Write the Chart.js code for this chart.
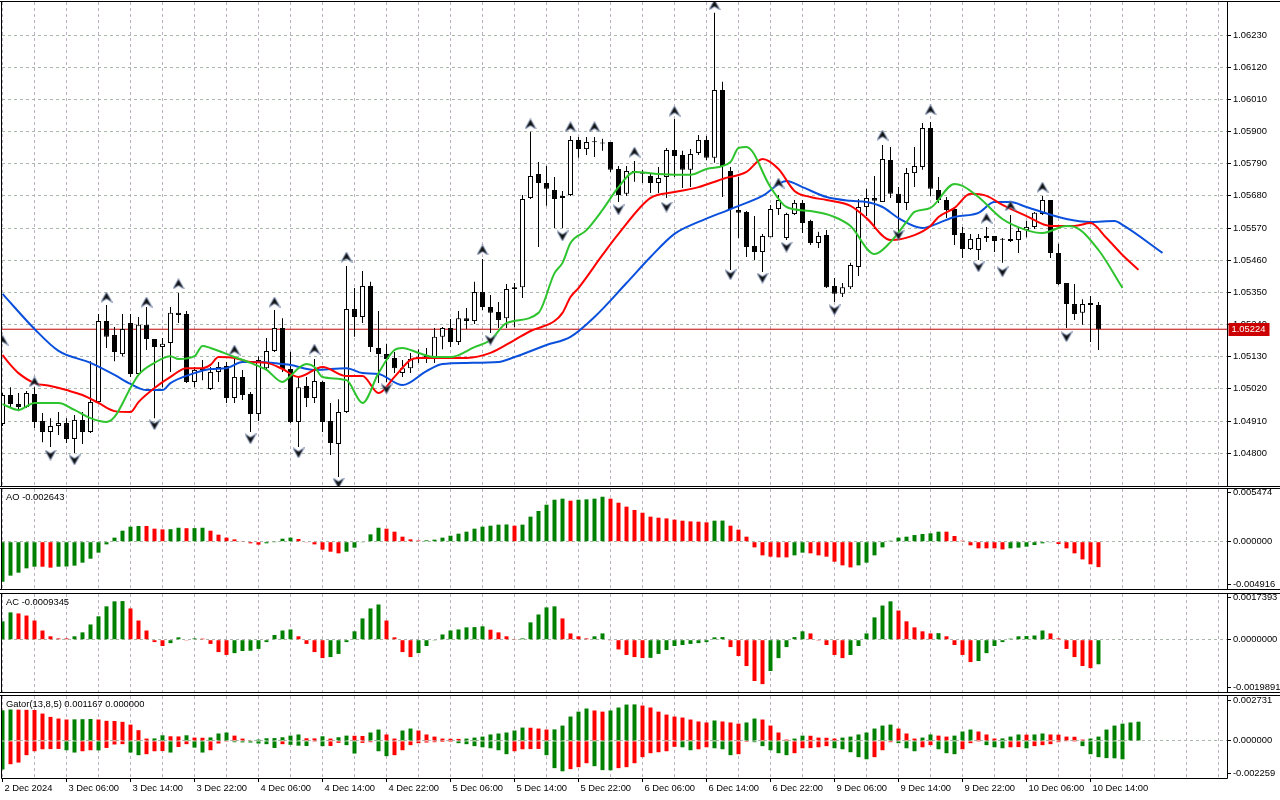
<!DOCTYPE html>
<html><head><meta charset="utf-8">
<script src="https://cdn.jsdelivr.net/npm/chart.js@4.4.1/dist/chart.umd.min.js"></script>
<style>
html,body{margin:0;padding:0;background:#fff;width:1280px;height:800px;overflow:hidden}
canvas{position:absolute;left:0}
</style></head><body>
<canvas id="cMain" width="1280" height="488" style="top:0px"></canvas>
<canvas id="cAO" width="1280" height="103" style="top:488px"></canvas>
<canvas id="cAC" width="1280" height="103" style="top:591px"></canvas>
<canvas id="cGator" width="1280" height="106" style="top:694px"></canvas>
<script>
// ---------- data (hourly bars, index 0 = first visible bar) ----------
const xLabels = ['2 Dec 2024','3 Dec 06:00','3 Dec 14:00','3 Dec 22:00','4 Dec 06:00','4 Dec 14:00','4 Dec 22:00','5 Dec 06:00','5 Dec 14:00','5 Dec 22:00','6 Dec 06:00','6 Dec 14:00','6 Dec 22:00','9 Dec 06:00','9 Dec 14:00','9 Dec 22:00','10 Dec 06:00','10 Dec 14:00'];
const priceTicks = [1.04800,1.04910,1.05020,1.05130,1.05240,1.05350,1.05460,1.05570,1.05680,1.05790,1.05900,1.06010,1.06120,1.06230];
const priceRange = [1.04688, 1.06343];

const candleOpen = [1.04900,1.04999,1.04968,1.04958,1.05003,1.04910,1.04873,1.04893,1.04903,1.04849,
1.04914,1.04873,1.04975,1.05252,1.05204,1.05139,1.05245,1.05071,1.05239,1.05191,
1.05163,1.05177,1.05280,1.05276,1.05044,1.05085,1.05020,1.05078,1.05098,1.04989,
1.05061,1.05003,1.04934,1.05091,1.05150,1.05228,1.05088,1.04907,1.05030,1.04989,
1.05044,1.04910,1.04832,1.04941,1.05293,1.05266,1.05372,1.05160,1.05139,1.05126,
1.05074,1.05091,1.05122,1.05136,1.05122,1.05198,1.05228,1.05180,1.05262,1.05252,
1.05351,1.05300,1.05283,1.05262,1.05362,1.05368,1.05673,1.05755,1.05724,1.05700,
1.05673,1.05683,1.05871,1.05840,1.05865,1.05861,1.05864,1.05772,1.05687,1.05765,
1.05758,1.05748,1.05724,1.05745,1.05837,1.05820,1.05769,1.05827,1.05871,1.05810,
1.06042,1.05765,1.05632,1.05625,1.05509,1.05488,1.05539,1.05635,1.05536,1.05618,
1.05656,1.05594,1.05519,1.05546,1.05372,1.05345,1.05368,1.05437,1.05642,1.05673,
1.05659,1.05803,1.05687,1.05656,1.05758,1.05779,1.05912,1.05700,1.05666,1.05635,
1.05553,1.05498,1.05495,1.05536,1.05543,1.05533,1.05533,1.05529,1.05563,1.05574,
1.05618,1.05666,1.05485,1.05382,1.05310,1.05280,1.05314,1.05307];
const candleHigh = [1.05006,1.05026,1.05006,1.05013,1.05026,1.04938,1.04920,1.04941,1.04920,1.04931,
1.04941,1.05115,1.05276,1.05307,1.05232,1.05276,1.05276,1.05266,1.05300,1.05191,
1.05194,1.05300,1.05348,1.05286,1.05095,1.05119,1.05095,1.05112,1.05112,1.05129,
1.05085,1.05009,1.05132,1.05194,1.05290,1.05262,1.05146,1.05061,1.05061,1.05122,
1.05047,1.04972,1.04985,1.05440,1.05365,1.05423,1.05386,1.05286,1.05174,1.05146,
1.05119,1.05143,1.05156,1.05160,1.05228,1.05232,1.05259,1.05286,1.05297,1.05386,
1.05464,1.05341,1.05317,1.05379,1.05382,1.05683,1.05899,1.05796,1.05782,1.05745,
1.05697,1.05885,1.05881,1.05881,1.05881,1.05875,1.05864,1.05782,1.05782,1.05799,
1.05769,1.05758,1.05779,1.05844,1.05943,1.05834,1.05840,1.05888,1.05885,1.06306,
1.06070,1.05779,1.05745,1.05628,1.05611,1.05550,1.05649,1.05683,1.05622,1.05666,
1.05666,1.05598,1.05557,1.05563,1.05399,1.05382,1.05451,1.05669,1.05704,1.05748,
1.05854,1.05847,1.05710,1.05775,1.05847,1.05929,1.05933,1.05745,1.05676,1.05639,
1.05574,1.05550,1.05550,1.05574,1.05543,1.05536,1.05615,1.05574,1.05594,1.05625,
1.05680,1.05666,1.05516,1.05382,1.05379,1.05327,1.05338,1.05317];
const candleLow = [1.04893,1.04958,1.04944,1.04955,1.04886,1.04838,1.04821,1.04862,1.04835,1.04801,
1.04832,1.04869,1.04972,1.05160,1.05115,1.05132,1.05061,1.05064,1.05153,1.04920,
1.05026,1.05078,1.05245,1.05040,1.05026,1.05050,1.05016,1.05044,1.04972,1.04972,
1.04982,1.04873,1.04910,1.05085,1.05146,1.05078,1.04903,1.04821,1.04958,1.04972,
1.04873,1.04794,1.04719,1.04938,1.05198,1.05245,1.05146,1.05040,1.05044,1.05074,
1.05061,1.05074,1.05109,1.05109,1.05109,1.05156,1.05163,1.05170,1.05225,1.05242,
1.05290,1.05211,1.05228,1.05228,1.05232,1.05331,1.05669,1.05505,1.05646,1.05570,
1.05570,1.05680,1.05810,1.05820,1.05813,1.05834,1.05762,1.05659,1.05680,1.05728,
1.05724,1.05690,1.05690,1.05673,1.05745,1.05707,1.05710,1.05820,1.05803,1.05793,
1.05676,1.05427,1.05536,1.05471,1.05461,1.05420,1.05539,1.05615,1.05529,1.05615,
1.05553,1.05512,1.05502,1.05365,1.05317,1.05334,1.05362,1.05406,1.05611,1.05567,
1.05659,1.05673,1.05557,1.05632,1.05710,1.05769,1.05680,1.05656,1.05604,1.05512,
1.05468,1.05495,1.05461,1.05522,1.05488,1.05451,1.05522,1.05485,1.05539,1.05567,
1.05615,1.05468,1.05375,1.05228,1.05256,1.05239,1.05180,1.05153];
const candleClose = [1.04999,1.04968,1.04958,1.05006,1.04907,1.04873,1.04893,1.04903,1.04849,1.04914,
1.04873,1.04975,1.05252,1.05198,1.05146,1.05225,1.05071,1.05239,1.05191,1.05163,
1.05174,1.05280,1.05273,1.05044,1.05085,1.05091,1.05078,1.05095,1.04989,1.05061,
1.04999,1.04934,1.05119,1.05150,1.05228,1.05088,1.04907,1.05026,1.04989,1.05047,
1.04907,1.04835,1.04941,1.05293,1.05266,1.05372,1.05163,1.05139,1.05122,1.05091,
1.05091,1.05122,1.05129,1.05122,1.05198,1.05228,1.05180,1.05262,1.05252,1.05351,
1.05300,1.05280,1.05256,1.05362,1.05368,1.05669,1.05748,1.05724,1.05704,1.05669,
1.05680,1.05871,1.05840,1.05864,1.05863,1.05859,1.05769,1.05683,1.05765,1.05758,
1.05756,1.05724,1.05741,1.05837,1.05816,1.05769,1.05823,1.05871,1.05810,1.06042,
1.05782,1.05635,1.05622,1.05505,1.05488,1.05543,1.05635,1.05666,1.05618,1.05656,
1.05587,1.05519,1.05543,1.05368,1.05345,1.05368,1.05444,1.05642,1.05673,1.05663,
1.05806,1.05687,1.05656,1.05758,1.05782,1.05912,1.05704,1.05666,1.05632,1.05546,
1.05498,1.05533,1.05536,1.05543,1.05526,1.05530,1.05526,1.05560,1.05574,1.05622,
1.05666,1.05485,1.05379,1.05310,1.05276,1.05310,1.05307,1.05224];
const lastPrice = 1.05224;

// Alligator lines: [bar index, price]
const jawLine = [[0,1.05345],[4,1.05225],[7,1.05150],[11,1.05109],[14,1.05068],[16,1.05037],[18,1.05016],[20,1.05016],[21,1.05040],[24,1.05074],[26,1.05088],[28,1.05091],[30,1.05112],[32,1.05112],[35,1.05105],[36,1.05102],[39,1.05085],[43,1.05091],[45,1.05074],[47,1.05071],[50,1.05033],[53,1.05081],[55,1.05105],[58,1.05109],[62,1.05112],[64,1.05129],[68,1.05170],[71,1.05198],[74,1.05266],[78,1.05382],[81,1.05471],[84,1.05550],[87,1.05591],[91,1.05635],[95,1.05680],[98,1.05731],[100,1.05710],[103,1.05676],[106,1.05663],[108,1.05659],[110,1.05642],[112,1.05604],[115,1.05570],[117,1.05587],[119,1.05608],[122,1.05622],[124,1.05659],[126,1.05659],[128,1.05642],[133,1.05601],[136,1.05591],[139,1.05594],[140,1.05581],[145,1.05485]];
const teethLine = [[0,1.05136],[1,1.05102],[2,1.05074],[4,1.05040],[6,1.05030],[8,1.05016],[10,1.04999],[12,1.04972],[14,1.04944],[16,1.04941],[17,1.04975],[19,1.05023],[21,1.05061],[23,1.05091],[25,1.05091],[26,1.05102],[27,1.05129],[29,1.05126],[31,1.05112],[33,1.05109],[35,1.05088],[37,1.05061],[40,1.05095],[43,1.05064],[45,1.05064],[47,1.05006],[49,1.05061],[51,1.05119],[52,1.05126],[56,1.05126],[58,1.05126],[61,1.05143],[64,1.05187],[66,1.05218],[69,1.05252],[70,1.05280],[71,1.05334],[72,1.05365],[75,1.05478],[77,1.05550],[81,1.05673],[84,1.05693],[87,1.05710],[90,1.05738],[93,1.05762],[95,1.05806],[97,1.05772],[99,1.05697],[101,1.05676],[103,1.05666],[106,1.05646],[108,1.05604],[111,1.05529],[114,1.05546],[116,1.05577],[117,1.05608],[119,1.05639],[121,1.05687],[123,1.05680],[125,1.05649],[128,1.05611],[131,1.05577],[134,1.05577],[136,1.05587],[138,1.05536],[140,1.05478],[142,1.05427]];
const lipsLine = [[0,1.04968],[2,1.04948],[4,1.04972],[7,1.04972],[9,1.04948],[11,1.04920],[13,1.04907],[14,1.04924],[16,1.05023],[17,1.05068],[19,1.05109],[21,1.05132],[22,1.05122],[24,1.05132],[25,1.05167],[26,1.05160],[29,1.05129],[31,1.05109],[33,1.05085],[35,1.05044],[36,1.05064],[37,1.05091],[38,1.05105],[39,1.05095],[40,1.05061],[43,1.05050],[45,1.04972],[47,1.05074],[49,1.05153],[50,1.05160],[52,1.05143],[54,1.05129],[56,1.05129],[59,1.05163],[61,1.05187],[63,1.05245],[67,1.05280],[69,1.05416],[70,1.05451],[71,1.05519],[73,1.05563],[75,1.05632],[77,1.05710],[79,1.05762],[82,1.05755],[86,1.05752],[88,1.05772],[91,1.05796],[92,1.05844],[93,1.05847],[96,1.05710],[98,1.05642],[101,1.05628],[104,1.05608],[106,1.05577],[109,1.05481],[111,1.05522],[113,1.05591],[114,1.05625],[116,1.05639],[119,1.05721],[120,1.05714],[122,1.05676],[125,1.05601],[128,1.05563],[130,1.05553],[133,1.05577],[134,1.05574],[137,1.05495],[140,1.05365]];

// Fractal arrows: [bar index, price of the arrow]
const fractalUp = [[0,1.05187],[4,1.05044],[13,1.05334],[18,1.05317],[22,1.05379],[29,1.05153],[34,1.05317],[39,1.05156],[43,1.05471],[60,1.05495],[66,1.05926],[71,1.05916],[74,1.05916],[79,1.05830],[84,1.05970],[89,1.06333],[97,1.05724],[110,1.05888],[116,1.05974],[123,1.05604],[126,1.05646],[130,1.05710]];
const fractalDown = [[6,1.04794],[9,1.04777],[19,1.04897],[31,1.04849],[37,1.04801],[42,1.04698],[48,1.05020],[61,1.05187],[70,1.05543],[77,1.05632],[83,1.05642],[91,1.05410],[95,1.05399],[98,1.05505],[104,1.05290],[112,1.05546],[122,1.05437],[125,1.05420],[133,1.05198]];

// Awesome Oscillator
const aoTitle = 'AO -0.002643';
const aoRange = [-0.004916, 0.005474];
const aoTickLabels = ['-0.004916', '0.000000', '0.005474'];
const aoValues = [-0.00416,-0.00353,-0.00322,-0.00277,-0.00260,-0.00260,-0.00270,-0.00260,-0.00258,-0.00249,
-0.00218,-0.00177,-0.00114,-0.00028,0.00042,0.00114,0.00156,0.00163,0.00163,0.00135,
0.00128,0.00130,0.00145,0.00140,0.00141,0.00145,0.00114,0.00073,0.00042,0.00024,
0.00003,-0.00017,-0.00031,-0.00017,-0.00001,0.00031,0.00042,0.00028,-0.00003,-0.00028,
-0.00083,-0.00104,-0.00121,-0.00104,-0.00062,-0.00003,0.00076,0.00145,0.00135,0.00104,
0.00052,0.00024,0.00012,0.00014,0.00021,0.00042,0.00062,0.00083,0.00104,0.00135,
0.00156,0.00166,0.00177,0.00179,0.00166,0.00177,0.00260,0.00319,0.00384,0.00436,
0.00447,0.00426,0.00436,0.00440,0.00447,0.00467,0.00447,0.00405,0.00364,0.00329,
0.00301,0.00260,0.00249,0.00242,0.00229,0.00218,0.00211,0.00208,0.00201,0.00218,
0.00219,0.00166,0.00125,0.00052,-0.00059,-0.00142,-0.00156,-0.00163,-0.00163,-0.00142,
-0.00114,-0.00121,-0.00142,-0.00156,-0.00208,-0.00246,-0.00267,-0.00246,-0.00218,-0.00142,
-0.00059,0.00010,0.00042,0.00052,0.00069,0.00080,0.00087,0.00104,0.00104,0.00059,
0.00010,-0.00038,-0.00069,-0.00069,-0.00069,-0.00080,-0.00069,-0.00062,-0.00052,-0.00035,
-0.00017,-0.00003,-0.00024,-0.00069,-0.00121,-0.00184,-0.00235,-0.002643];

// Accelerator Oscillator
const acTitle = 'AC -0.0009345';
const acRange = [-0.0019891, 0.0017393];
const acTickLabels = ['-0.0019891', '0.0000000', '0.0017393'];
const acValues = [0.00070,0.00104,0.00100,0.00092,0.00073,0.00035,0.00013,0.00005,0.00005,0.00013,
0.00028,0.00058,0.00089,0.00127,0.00146,0.00147,0.00119,0.00073,0.00035,-0.00009,
-0.00024,-0.00013,0.00009,-0.00001,0.00005,0.00004,-0.00016,-0.00047,-0.00058,-0.00051,
-0.00043,-0.00042,-0.00035,-0.00009,0.00018,0.00035,0.00039,0.00013,-0.00016,-0.00047,
-0.00070,-0.00066,-0.00054,-0.00009,0.00032,0.00081,0.00119,0.00134,0.00073,0.00009,
-0.00047,-0.00066,-0.00051,-0.00024,-0.00001,0.00020,0.00035,0.00039,0.00047,0.00048,
0.00051,0.00038,0.00028,0.00013,0.00001,0.00005,0.00066,0.00096,0.00123,0.00127,
0.00081,0.00024,0.00013,0.00005,0.00013,0.00024,-0.00001,-0.00037,-0.00058,-0.00066,
-0.00070,-0.00069,-0.00054,-0.00039,-0.00024,-0.00020,-0.00016,-0.00013,-0.00009,0.00009,
0.00010,-0.00028,-0.00062,-0.00100,-0.00157,-0.00169,-0.00119,-0.00070,-0.00028,0.00010,
0.00032,0.00024,-0.00003,-0.00020,-0.00058,-0.00070,-0.00058,-0.00024,0.00024,0.00085,
0.00130,0.00146,0.00111,0.00070,0.00047,0.00032,0.00024,0.00025,0.00013,-0.00020,
-0.00058,-0.00085,-0.00081,-0.00051,-0.00024,-0.00009,0.00004,0.00013,0.00014,0.00016,
0.00035,0.00024,0.00005,-0.00035,-0.00066,-0.00100,-0.00108,-0.0009345];

// Gator Oscillator
const gatorTitle = 'Gator(13,8,5) 0.001167 0.000000';
const gatorRange = [-0.002259, 0.002731];
const gatorTickLabels = ['-0.002259', '0.000000', '0.002731'];
const gatorUpper = [0.00186,0.00191,0.00190,0.00189,0.00188,0.00166,0.00146,0.00136,0.00130,0.00131,
0.00132,0.00133,0.00130,0.00122,0.00121,0.00116,0.00099,0.00065,0.00014,0.00015,
0.00034,0.00028,0.00027,0.00034,0.00020,0.00019,0.00021,0.00045,0.00051,0.00032,
0.00014,0.00004,0.00008,0.00016,0.00017,0.00022,0.00032,0.00039,0.00016,0.00015,
0.00028,0.00014,0.00022,0.00032,0.00031,0.00030,0.00051,0.00069,0.00039,0.00014,
0.00063,0.00075,0.00063,0.00039,0.00026,0.00014,0.00013,0.00012,0.00014,0.00020,
0.00026,0.00039,0.00045,0.00051,0.00063,0.00081,0.00080,0.00075,0.00069,0.00070,
0.00093,0.00148,0.00178,0.00197,0.00185,0.00178,0.00185,0.00203,0.00221,0.00222,
0.00215,0.00203,0.00178,0.00160,0.00148,0.00142,0.00130,0.00118,0.00112,0.00124,
0.00118,0.00112,0.00105,0.00112,0.00136,0.00130,0.00093,0.00051,0.00008,0.00014,
0.00032,0.00031,0.00020,0.00019,0.00014,0.00020,0.00026,0.00039,0.00051,0.00075,
0.00093,0.00099,0.00075,0.00045,0.00014,0.00020,0.00039,0.00032,0.00026,0.00032,
0.00057,0.00069,0.00057,0.00039,0.00014,0.00015,0.00026,0.00039,0.00038,0.00039,
0.00045,0.00039,0.00038,0.00026,0.00025,0.00008,0.00014,0.00026,0.00069,0.00093,
0.00105,0.00112,0.001167];
const gatorLower = [-0.00174,-0.00142,-0.00132,-0.00087,-0.00063,-0.00051,-0.00050,-0.00049,-0.00057,-0.00071,
-0.00063,-0.00057,-0.00058,-0.00043,-0.00022,-0.00020,-0.00071,-0.00087,-0.00081,-0.00063,
-0.00062,-0.00071,-0.00037,-0.00020,-0.00041,-0.00071,-0.00057,-0.00016,-0.00001,-0.00008,
-0.00009,-0.00010,-0.00016,-0.00020,-0.00043,-0.00020,-0.00024,-0.00029,-0.00031,-0.00001,
-0.00032,-0.00031,-0.00012,-0.00026,-0.00077,-0.00012,-0.00008,-0.00063,-0.00093,-0.00087,
-0.00057,-0.00026,-0.00014,-0.00010,-0.00008,-0.00007,-0.00006,-0.00014,-0.00020,-0.00032,
-0.00039,-0.00045,-0.00057,-0.00081,-0.00063,-0.00051,-0.00050,-0.00049,-0.00087,-0.00166,
-0.00185,-0.00172,-0.00160,-0.00136,-0.00154,-0.00178,-0.00179,-0.00166,-0.00160,-0.00136,
-0.00099,-0.00075,-0.00069,-0.00063,-0.00036,-0.00039,-0.00057,-0.00051,-0.00039,-0.00045,
-0.00051,-0.00087,-0.00081,-0.00006,-0.00008,-0.00032,-0.00057,-0.00075,-0.00087,-0.00075,
-0.00045,-0.00044,-0.00039,-0.00032,-0.00045,-0.00051,-0.00069,-0.00099,-0.00112,-0.00099,
-0.00057,-0.00008,-0.00014,-0.00045,-0.00063,-0.00039,-0.00026,-0.00051,-0.00075,-0.00081,
-0.00051,-0.00014,-0.00001,-0.00026,-0.00039,-0.00045,-0.00039,-0.00038,-0.00045,-0.00032,
-0.00026,-0.00020,-0.00008,-0.00002,-0.00001,-0.00032,-0.00081,-0.00099,-0.00105,-0.00106,
-0.00112];

// ---------- styling ----------
const FONT = {family: '"Liberation Sans", Arial, sans-serif', size: 9.4};
const GREEN = '#008000', RED = '#ff0000';
const GRID_X = '#bfb1c5', GRID_Y = '#abb8ab';
const X_MIN = -0.0625, X_MAX = 153.0625;   // visible bar-index window (8 px per bar)
Chart.defaults.font.family = FONT.family;
Chart.defaults.font.size = FONT.size;
Chart.defaults.color = '#000';
Chart.defaults.animation = false;

const hasLabel = v => v % 8 === 0 && xLabels[v / 8] !== undefined;
function xAxis(withLabels) {
  return {
    type: 'linear', min: X_MIN, max: X_MAX, bounds: 'data', offset: false,
    afterBuildTicks: s => { const t = []; for (let v = 0; v <= X_MAX; v += 4) t.push({value: v}); s.ticks = t; },
    afterFit: s => { s.height = withLabels ? 22 : 0; s.paddingLeft = 0; s.paddingRight = 0; },
    grid: {color: GRID_X, lineWidth: 1, offset: false, drawTicks: withLabels, tickLength: 4, tickWidth: 1,
      tickBorderDash: [], tickColor: c => (c.tick && hasLabel(c.tick.value)) ? '#000' : 'rgba(0,0,0,0)'},
    border: {display: false, dash: [3, 3]},
    ticks: {display: withLabels, autoSkip: false, maxRotation: 0, minRotation: 0, align: 'start',
      labelOffset: 2, padding: 1, color: '#000', font: FONT,
      callback: v => hasLabel(v) ? xLabels[v / 8] : ''}
  };
}
function yAxis(min, max, tickValues, labelFn, gridColor) {
  return {
    type: 'linear', position: 'right', min: min, max: max, bounds: 'data',
    afterBuildTicks: s => { s.ticks = tickValues().map(v => ({value: v})); },
    afterFit: s => { s.width = 53; s.paddingTop = 0; s.paddingBottom = 0; },
    grid: {color: gridColor, lineWidth: 1, drawTicks: true, tickLength: 4, tickWidth: 1, tickColor: '#000', tickBorderDash: []},
    border: {display: false, dash: [3, 3]},
    ticks: {padding: 2, autoSkip: false, color: '#000', font: FONT, callback: labelFn}
  };
}
function paneAxis(range, labels, fracBottom, fracTop) {
  const r = range[1] - range[0];
  return yAxis(range[0], range[1],
    () => [range[0] + fracBottom * r, 0, range[1] - fracTop * r],
    (v, i) => labels[i],
    c => (c.tick && c.tick.value === 0) ? GRID_Y : 'rgba(0,0,0,0)');
}

// frame, pane title and last-price box
const paneDecor = {
  id: 'paneDecor',
  afterDraw(chart, args, o) {
    const {ctx, chartArea: a} = chart;
    const t = Math.round(a.top) - 0.5, b = Math.round(a.bottom) + 0.5;
    const l = Math.round(a.left) - 0.5, r = Math.round(a.right) + 0.5;
    ctx.save();
    ctx.strokeStyle = '#000'; ctx.lineWidth = 1; ctx.setLineDash([]);
    ctx.beginPath();
    ctx.moveTo(0, t); ctx.lineTo(chart.width, t);
    if (o.fullBottom) { ctx.moveTo(0, b); ctx.lineTo(chart.width, b); } else { ctx.moveTo(l, b); ctx.lineTo(r, b); }
    ctx.moveTo(l, t); ctx.lineTo(l, b);
    ctx.moveTo(r, t); ctx.lineTo(r, b);
    ctx.stroke();
    ctx.font = FONT.size + 'px ' + FONT.family;
    if (o.title) {
      ctx.fillStyle = '#000'; ctx.textBaseline = 'top'; ctx.textAlign = 'left';
      ctx.fillText(o.title, a.left + 4, a.top + 4);
    }
    if (o.price !== undefined) {
      const y = Math.round(chart.scales.y.getPixelForValue(o.price));
      ctx.fillStyle = '#cc0000';
      ctx.fillRect(r + 1, y - 6, 41, 13);
      ctx.fillStyle = '#fff'; ctx.textBaseline = 'middle'; ctx.textAlign = 'left';
      ctx.fillText(o.price.toFixed(5), r + 4, y + 0.5);
    }
    ctx.restore();
  }
};

function arrowImage(up) {
  const c = document.createElement('canvas'); c.width = 12; c.height = 11;
  const g = c.getContext('2d');
  g.beginPath();
  if (up) { g.moveTo(6, 0.5); g.lineTo(11.5, 10.5); g.lineTo(6, 7); g.lineTo(0.5, 10.5); }
  else { g.moveTo(6, 10.5); g.lineTo(11.5, 0.5); g.lineTo(6, 4); g.lineTo(0.5, 0.5); }
  g.closePath();
  g.fillStyle = '#111'; g.fill();
  g.lineWidth = 0.8; g.strokeStyle = '#7a8fb8'; g.stroke();
  return c;
}

const common = (padding, decor) => ({
  responsive: false, animation: false, events: [],
  layout: {padding: padding, autoPadding: false},
  plugins: {legend: {display: false}, tooltip: {enabled: false}, paneDecor: decor}
});
const pairs = arr => arr.map(p => ({x: p[0], y: p[1]}));
const idx = candleOpen.map((_, i) => i);
const riseColor = (arr, abs) => c => {
  if (c.type !== 'data') return GREEN;
  const i = c.dataIndex;
  if (i === 0) return GREEN;
  const cur = abs ? Math.abs(arr[i]) : arr[i], prev = abs ? Math.abs(arr[i - 1]) : arr[i - 1];
  return cur > prev ? GREEN : RED;
};
const histDataset = (vals, colorFn) => ({
  type: 'bar', data: vals.map((v, i) => ({x: i, y: v})), backgroundColor: colorFn,
  borderWidth: 0, barThickness: 4, grouped: false, inflateAmount: 0
});

// ---------- main price pane ----------
new Chart(document.getElementById('cMain'), {
  type: 'bar',
  data: {datasets: [
    {type: 'line', data: pairs(fractalUp), showLine: false, pointStyle: arrowImage(true), pointRadius: 5, order: 0},
    {type: 'line', data: pairs(fractalDown), showLine: false, pointStyle: arrowImage(false), pointRadius: 5, order: 0},
    {type: 'line', data: pairs(lipsLine), borderColor: '#2ec42e', borderWidth: 2, pointRadius: 0, cubicInterpolationMode: 'monotone', order: 1},
    {type: 'line', data: pairs(teethLine), borderColor: '#ff0000', borderWidth: 2, pointRadius: 0, cubicInterpolationMode: 'monotone', order: 2},
    {type: 'line', data: pairs(jawLine), borderColor: '#0a50dc', borderWidth: 2, pointRadius: 0, cubicInterpolationMode: 'monotone', order: 3},
    {type: 'bar', data: idx.map(i => ({x: i, y: [candleOpen[i], candleClose[i]]})),
      backgroundColor: c => (c.type === 'data' && candleClose[c.dataIndex] < candleOpen[c.dataIndex]) ? '#000' : '#fff',
      borderColor: '#000', borderWidth: 1, borderSkipped: false, barThickness: 5, minBarLength: 1,
      grouped: false, inflateAmount: 0, order: 4},
    {type: 'bar', data: idx.map(i => ({x: i, y: [candleLow[i], candleHigh[i]]})),
      backgroundColor: '#000', borderWidth: 0, barThickness: 1, grouped: false, inflateAmount: 0, order: 5},
    {type: 'line', data: [{x: X_MIN, y: lastPrice}, {x: X_MAX, y: lastPrice}], borderColor: '#c00000', borderWidth: 1, pointRadius: 0, order: 6}
  ]},
  options: Object.assign(common({left: 2, right: 0, top: 2, bottom: 2}, {price: lastPrice, fullBottom: true}), {
    scales: {
      x: xAxis(false),
      y: yAxis(priceRange[0], priceRange[1], () => priceTicks, v => v.toFixed(5), GRID_Y)
    }
  }),
  plugins: [paneDecor]
});

// ---------- AO ----------
new Chart(document.getElementById('cAO'), {
  type: 'bar',
  data: {datasets: [histDataset(aoValues, riseColor(aoValues, false))]},
  options: Object.assign(common({left: 2, right: 0, top: 1, bottom: 2}, {title: aoTitle, fullBottom: true}), {
    scales: {x: xAxis(false), y: paneAxis(aoRange, aoTickLabels, 0.047, 0.03)}
  }),
  plugins: [paneDecor]
});

// ---------- AC ----------
new Chart(document.getElementById('cAC'), {
  type: 'bar',
  data: {datasets: [histDataset(acValues, riseColor(acValues, false))]},
  options: Object.assign(common({left: 2, right: 0, top: 3, bottom: 2}, {title: acTitle, fullBottom: true}), {
    scales: {x: xAxis(false), y: paneAxis(acRange, acTickLabels, 0.044, 0.038)}
  }),
  plugins: [paneDecor]
});

// ---------- Gator ----------
new Chart(document.getElementById('cGator'), {
  type: 'bar',
  data: {datasets: [
    histDataset(gatorUpper, riseColor(gatorUpper, false)),
    histDataset(gatorLower, riseColor(gatorLower, true))
  ]},
  options: Object.assign(common({left: 2, right: 0, top: 2, bottom: 0}, {title: gatorTitle, fullBottom: false}), {
    scales: {x: xAxis(true), y: paneAxis(gatorRange, gatorTickLabels, 0.052, 0.052)}
  }),
  plugins: [paneDecor]
});
</script>
</body></html>
